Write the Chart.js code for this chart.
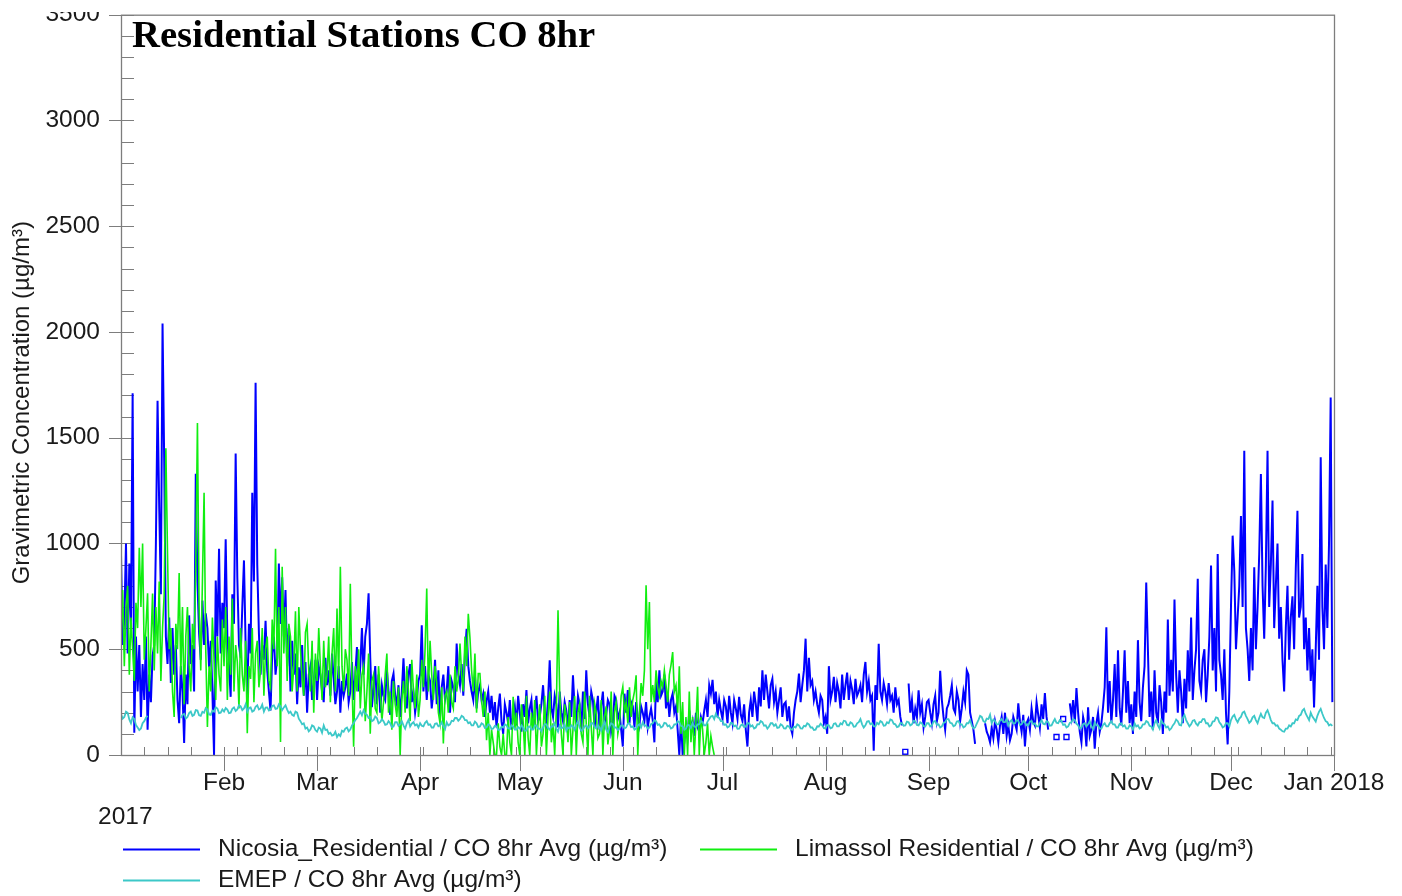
<!DOCTYPE html>
<html>
<head>
<meta charset="utf-8">
<title>Residential Stations CO 8hr</title>
<script src="https://cdn.jsdelivr.net/npm/chart.js@4/dist/chart.umd.min.js"></script>
<style>
  html, body { margin: 0; padding: 0; background: #fff; overflow: hidden; }
  #wrap { position: absolute; left: 0; top: 12px; width: 1402px; height: 884px; overflow: hidden; }
  #chart { position: absolute; left: 0; top: -33px; display: block; }
</style>
</head>
<body>
<div id="wrap"><canvas id="chart" width="1402" height="917"></canvas></div>
<script>
// ---- time axis (day of year 2017, day 0 = 1 Jan) ----
const monthStarts = [0, 31, 59, 90, 120, 151, 181, 212, 243, 273, 304, 334, 365];
const xTickDays   = [31, 59, 90, 120, 151, 181, 212, 243, 273, 304, 334, 365];
const xTickLabels = ['Feb', 'Mar', 'Apr', 'May', 'Jun', 'Jul', 'Aug', 'Sep', 'Oct', 'Nov', 'Dec', 'Jan 2018'];
const yearLabel = '2017';
const yTicks = [0, 500, 1000, 1500, 2000, 2500, 3000, 3500];

const chartTitle = 'Residential Stations CO 8hr';
const yTitle = 'Gravimetric Concentration (\u00b5g/m\u00b3)';
const seriesNames = [
  'Nicosia_Residential / CO 8hr Avg (\u00b5g/m\u00b3)',
  'Limassol Residential / CO 8hr Avg (\u00b5g/m\u00b3)',
  'EMEP / CO 8hr Avg (\u00b5g/m\u00b3)'
];

// ---- Nicosia residential, two readings per day (00h, 12h), one block per month ----
const nicosia = [
  [950,520, 640,1000, 480,905, 620,1710, 105,560, 300,520, 180,430, 260,560, 120,380, 250,470,
   520,1000, 1675,1170, 760,2040, 1390,560, 430,650, 340,600, 380,520, 260,150, 420,300, 57,380,
   240,660, 430,520, 300,1330, 820,575, 450,730, 520,670, 600,415, 540,300, 0,825, 560,975,
   480,720],
  [600,1020, 560,420, 275,760, 620,1425, 840,520, 460,700, 920,520, 275,620, 480,1240, 820,1760,
   900,575, 380,520, 450,635, 400,300, 210,480, 560,380, 460,905, 620,840, 560,780, 420,600,
   300,540, 380,480, 240,415, 320,520, 280,440, 200,380, 420,260, 340,450],
  [260,420, 380,300, 250,460, 330,400, 280,480, 360,240, 300,420, 200,350, 280,320, 385,250,
   300,440, 260,380, 510,300, 420,600, 380,560, 620,765, 460,226, 320,420, 240,380, 200,330,
   280,260, 405,300, 190,350, 385,280, 240,330, 180,300, 457,280, 220,380, 430,250, 300,200,
   260,350],
  [380,613, 300,420, 260,380, 350,220, 300,450, 240,400, 180,320, 380,260, 300,420, 200,350,
   320,250, 527,380, 330,430, 280,480, 597,420, 350,300, 260,380, 220,300, 330,260, 290,180,
   255,300, 200,280, 165,250, 130,220, 290,160, 100,240, 200,150, 260,120, 180,230, 140,280],
  [200,110, 240,180, 307,150, 220,260, 120,200, 280,160, 180,240, 330,200, 150,260, 448,220,
   180,280, 240,130, 300,200, 160,250, 210,120, 260,180, 377,220, 150,280, 240,110, 300,170,
   400,240, 180,300, 260,130, 200,280, 120,230, 300,150, 190,260, 240,110, 150,280, 260,170,
   200,120],
  [40,290, 200,307, 150,250, 230,130, 250,180, 140,230, 200,160, 250,130, 180,220, 165,60,
   355,250, 400,280, 300,380, 220,290, 180,260, 290,200, 230,120, 0,180, 0,60, 140,85,
   210,120, 160,90, 200,130, 110,180, 150,210, 260,180, 330,290, 355,240, 300,180, 260,210],
  [170,260, 230,150, 280,200, 150,260, 220,170, 275,190, 160,240, 120,40, 200,260, 180,300,
   240,160, 320,230, 400,260, 380,300, 220,330, 360,250, 300,200, 260,320, 180,240, 250,160,
   230,130, 100,200, 260,300, 385,250, 330,400, 550,300, 460,330, 350,260, 300,240, 200,280,
   260,150],
  [180,100, 420,260, 300,370, 250,340, 300,220, 380,260, 330,390, 260,350, 310,240, 360,280,
   300,330, 250,380, 440,300, 350,260, 280,20, 330,260, 526,300, 260,340, 300,240, 340,260,
   280,200, 320,240, 260,180, 140,null, 15,null, 338,200, 260,150, 220,180, 306,200, 240,130,
   180,250],
  [260,200, 150,240, 280,160, 200,398, 260,180, 120,220, 240,280, 330,220, 200,300, 260,160,
   220,300, 250,400, 380,200, 160,120, 53,null, null,null, null,null, 150,110, 90,60, 130,80,
   160,120, 60,140, 180,100, 200,90, 140,70, 100,180, 150,120, 244,160, 110,190, 40,150],
  [170,120, 220,160, 140,250, 190,130, 240,170, 293,180, 120,null, null,null, null,85, null,null,
   null,170, null,85, null,244, 180,260, 150,316, 200,110, 60,180, 140,40, 226,90, 120,180,
   30,150, 200,110, 150,226, 320,604, 200,350, 150,260, 430,180, 495,220, 140,300, 495,200,
   350,150],
  [240,100, 300,180, 543,250, 160,320, 420,816, 500,180, 300,120, 400,200, 150,330, 250,100,
   300,200, 640,280, 450,300, 735,380, 200,400, 300,150, 360,220, 495,300, 650,260, 400,500,
   833,350, 300,450, 500,250, 380,560, 896,400, 600,300, 950,450, 380,260, 500,200, 50,300],
  [700,1037, 870,500, 650,800, 1130,700, 1438,600, 500,350, 600,400, 888,500, 700,950, 1329,800,
   550,900, 1438,700, 900,1203, 600,800, 1000,550, 700,450, 300,600, 800,450, 650,750, 500,880,
   1155,650, 700,950, 500,650, 400,600, 350,500, 225,500, 800,450, 1408,700, 500,900, 600,1000,
   1690,250]
];

// ---- Limassol residential, two readings per day, January to late June ----
const limassol = [
  [560,780, 420,700, 800,380, 650,500, 350,720, 600,980, 700,1000, 450,600, 765,300, 520,763,
   400,700, 480,820, 350,600, 760,1450, 950,500, 600,300, 180,620, 500,860, 380,700, 240,560,
   700,420, 300,620, 500,900, 1570,700, 400,820, 1240,500, 133,420, 300,650, 450,260, 560,380,
   300,640],
  [420,700, 260,560, 380,740, 300,520, 440,220, 600,380, 300,540, 103,420, 360,600, 250,480,
   540,320, 400,600, 280,500, 560,350, 320,640, 500,975, 420,700, 62,890, 480,700, 350,620,
   560,300, 420,680, 300,700, 500,360, 280,580, 620,400, 300,540, 200,480],
  [350,600, 420,260, 540,320, 380,560, 250,480, 600,300, 692,360, 890,420, 300,500, 450,280,
   810,350, 39,420, 300,500, 220,380, 420,160, 300,480, 100,350, 380,220, 200,420, 300,160,
   250,380, 480,200, 300,120, 350,240, 180,320, 0,260, 350,200, 420,300, 160,450, 300,220,
   380,180],
  [260,450, 320,500, 787,300, 540,380, 260,420, 340,200, 150,320, 55,280, 300,200, 380,250,
   220,420, 300,360, 527,380, 300,560, 420,668, 555,400, 300,480, 200,385, 385,260, 180,300,
   70,200, 0,120, 60,0, 0,150, 40,0, 100,0, 0,180, 60,0, 275,120, 200,60],
  [0,240, 160,0, 280,80, 0,200, 120,260, 0,150, 240,40, 100,280, 0,180, 300,60,
   150,0, 220,684, 300,100, 0,240, 180,60, 250,0, 120,280, 0,200, 240,100, 60,300,
   150,0, 280,130, 0,245, 200,80, 100,260, 0,180, 230,50, 120,300, 0,200, 250,100,
   150,280],
  [323,200, 250,150, 320,180, 260,300, 377,0, 200,340, 280,400, 802,500, 723,250, 330,250,
   400,320, 280,350, 320,400, 330,250, 380,425, 487,300, 330,200, 420,100, 250,0, 180,0,
   300,60, 180,0, 150,323, 0,180, 120,0, 60,150, 0,90, 40,0]
];

// ---- EMEP background station, two readings per day ----
const emep = [
  [195,172, 180,205, 200,168, 150,178, 170,142, 130,118, 125,150, 160,176, 185,null,
   null,null, null,null, null,null, null,null, null,null, null,null, null,null, null,null, null,null,
   175,190, 195,172, 180,198, 205,185, 190,212, 210,188, 185,204, 200,222, 215,192, 190,210,
   205,226, 220,198, 200,215],
  [205,222, 215,198, 200,218, 225,208, 215,236, 230,212, 220,240, 205,222, 225,205, 210,228,
   235,215, 220,238, 205,224, 225,210, 215,232, 235,218, 220,240, 230,212, 225,235, 215,198,
   205,190, 185,205, 200,172, 160,145, 150,125, 130,112, 120,140, 135,118],
  [110,130, 125,105, 140,118, 120,100, 105,92, 95,110, 85,98, 90,115, 110,125, 130,112,
   120,140, 150,165, 175,190, 205,188, 212,195, 190,175, 180,160, 165,182, 175,150, 155,170,
   160,142, 145,160, 150,132, 135,155, 155,138, 145,160, 140,125, 150,165, 135,148, 155,140,
   145,130],
  [150,138, 135,152, 160,142, 145,130, 130,148, 150,136, 140,155, 135,122, 155,140, 145,162,
   160,175, 175,162, 170,185, 180,165, 165,150, 155,140, 140,158, 150,132, 135,150, 145,128,
   130,145, 140,122, 125,138, 135,118, 120,134, 130,145, 140,126, 125,140, 135,120, 120,132],
  [125,140, 130,115, 115,132, 135,120, 120,138, 140,125, 125,112, 130,146, 145,128, 120,136,
   135,150, 125,110, 140,126, 130,145, 115,130, 125,140, 135,120, 145,158, 130,115, 120,135,
   140,126, 135,150, 150,132, 125,140, 130,115, 140,155, 120,108, 135,150, 145,130, 130,118,
   125,140],
  [140,125, 130,148, 150,132, 135,120, 125,140, 145,130, 155,138, 140,125, 130,146, 150,165,
   160,142, 145,130, 135,152, 150,136, 140,125, 130,145, 145,160, 155,138, 135,120, 125,142,
   140,128, 150,135, 130,145, 145,160, 155,140, 140,158, 170,182, 185,170, 195,178, 175,160],
  [160,142, 145,130, 135,152, 150,136, 140,124, 125,140, 145,132, 135,150, 150,135, 140,125,
   130,146, 145,160, 155,138, 140,125, 135,150, 150,138, 145,128, 130,145, 140,126, 125,138,
   135,122, 120,134, 130,145, 140,126, 125,138, 135,150, 145,130, 130,118, 120,136, 135,148,
   140,128],
  [125,142, 140,126, 130,148, 150,135, 135,150, 145,162, 160,142, 140,155, 150,134, 135,150,
   155,170, 145,130, 140,158, 160,145, 150,135, 135,152, 145,160, 155,138, 140,155, 150,168,
   165,148, 145,132, 135,150, 150,138, 140,158, 155,140, 145,162, 160,142, 140,155, 150,136,
   135,150],
  [150,135, 140,158, 160,142, 145,130, 135,152, 155,170, 170,152, 150,136, 140,158, 160,145,
   145,130, 135,150, 150,165, 140,125, 130,148, 165,185, 180,160, 155,172, 170,190, 150,168,
   160,145, 145,162, 170,155, 155,172, 140,158, 165,148, 150,166, 160,142, 145,160, 155,140],
  [140,158, 160,145, 150,135, 135,152, 165,148, 145,160, 155,138, 140,156, 170,152, 150,165,
   160,142, 145,130, 135,152, 155,170, 165,148, 140,125, 130,146, 150,135, 145,160, 135,122,
   155,140, 140,125, 125,142, 150,135, 135,150, 160,145, 145,130, 130,148, 150,135, 140,125,
   125,140],
  [135,120, 150,135, 140,125, 130,145, 145,160, 155,138, 135,120, 150,165, 140,125, 165,150,
   145,130, 135,118, 125,140, 150,168, 160,142, 140,175, 190,165, 150,135, 145,162, 165,148,
   140,155, 155,170, 170,150, 150,135, 140,158, 160,178, 175,155, 145,130, 135,150, 150,135],
  [165,182, 190,168, 155,172, 180,200, 205,185, 170,152, 160,178, 185,165, 150,175, 195,178,
   175,200, 212,190, 165,150, 150,138, 140,125, 120,112, 110,125, 125,140, 135,150, 150,168,
   165,185, 190,210, 218,195, 180,165, 200,182, 170,158, 185,205, 218,195, 175,160, 155,140,
   145,138]
];

// month blocks -> {x: day of year, y}
function toPoints(blocks, perDay) {
  const pts = [];
  blocks.forEach((vals, m) => {
    vals.forEach((v, j) => pts.push({ x: monthStarts[m] + j / perDay, y: v }));
  });
  return pts;
}

// a reading with no neighbours is shown as a small open square
function loneRadius(ctx) {
  const d = ctx.dataset.data, i = ctx.dataIndex;
  if (!d[i] || d[i].y == null) return 0;
  const p = d[i - 1], n = d[i + 1];
  return ((!p || p.y == null) && (!n || n.y == null)) ? 3.5 : 0;
}

const FONT = "'Liberation Sans', Arial, sans-serif";
const FONT_SIZE = 24.5;
const TEXT = '#1a1a1a';
const AXIS = '#7d7d7d';

function lineSet(label, color, data, width, order) {
  return {
    label, data, order,
    borderColor: color,
    backgroundColor: color,
    borderWidth: width,
    tension: 0,
    spanGaps: false,
    pointRadius: loneRadius,
    pointHoverRadius: 0,
    pointStyle: 'rect',
    pointBorderColor: color,
    pointBackgroundColor: 'rgba(0,0,0,0)',
    pointBorderWidth: 1.4
  };
}

// frame, tick marks, title, y title, year label and legend
const decor = {
  id: 'decor',
  beforeDatasetsDraw(chart) {
    const { ctx, chartArea: a, scales: { x, y } } = chart;
    ctx.save();
    ctx.strokeStyle = AXIS;
    ctx.lineWidth = 1;
    ctx.beginPath();
    for (let v = 0; v <= 3500; v += 100) {
      const py = Math.round(y.getPixelForValue(v)) + 0.5;
      ctx.moveTo(v % 500 === 0 ? a.left - 12 : a.left, py);
      ctx.lineTo(a.left + 13, py);
    }
    for (let d = 0; d <= 365; d += 7) {
      const px = Math.round(x.getPixelForValue(d)) + 0.5;
      ctx.moveTo(px, a.bottom - 8);
      ctx.lineTo(px, a.bottom);
    }
    xTickDays.forEach(d => {
      const px = Math.round(x.getPixelForValue(d)) + 0.5;
      ctx.moveTo(px, a.bottom - 8);
      ctx.lineTo(px, a.bottom + 16);
    });
    ctx.stroke();
    ctx.restore();
  },
  afterDraw(chart) {
    const { ctx, chartArea: a } = chart;
    ctx.save();
    // plot frame
    ctx.strokeStyle = AXIS;
    ctx.lineWidth = 1.3;
    ctx.strokeRect(a.left + 0.5, a.top + 0.5, a.right - a.left, a.bottom - a.top);

    // chart title inside the plot
    ctx.fillStyle = '#000';
    ctx.font = "bold 38.7px 'Liberation Serif', 'Times New Roman', serif";
    ctx.textAlign = 'left';
    ctx.textBaseline = 'alphabetic';
    ctx.fillText(chartTitle, a.left + 11, a.top + 32);

    // y axis title
    ctx.fillStyle = TEXT;
    ctx.font = '24px ' + FONT;
    ctx.save();
    ctx.translate(22, a.top + 388);
    ctx.rotate(-Math.PI / 2);
    ctx.textAlign = 'center';
    ctx.textBaseline = 'middle';
    ctx.fillText(yTitle, 0, 0);
    ctx.restore();

    // year under the axis
    ctx.font = FONT_SIZE + 'px ' + FONT;
    ctx.textAlign = 'left';
    ctx.textBaseline = 'middle';
    ctx.fillText(yearLabel, a.left - 23, a.bottom + 62);

    // legend: two columns
    const slots = [
      { x: a.left + 2, y: a.bottom + 94 },
      { x: a.left + 579, y: a.bottom + 94 },
      { x: a.left + 2, y: a.bottom + 125 }
    ];
    chart.data.datasets.forEach((ds, i) => {
      const s = slots[i];
      ctx.strokeStyle = ds.borderColor;
      ctx.lineWidth = 2;
      ctx.beginPath();
      ctx.moveTo(s.x, s.y + 0.5);
      ctx.lineTo(s.x + 77, s.y + 0.5);
      ctx.stroke();
      ctx.fillStyle = TEXT;
      ctx.fillText(ds.label, s.x + 95, s.y);
    });
    ctx.restore();
  }
};

new Chart(document.getElementById('chart'), {
  type: 'line',
  data: {
    datasets: [
      lineSet(seriesNames[0], '#0000ff', toPoints(nicosia, 2), 2.0, 2),
      lineSet(seriesNames[1], '#10ee10', toPoints(limassol, 2), 1.6, 1),
      lineSet(seriesNames[2], '#3cc8c8', toPoints(emep, 2), 1.8, 0)
    ]
  },
  options: {
    responsive: false,
    animation: false,
    devicePixelRatio: 1,
    events: [],
    layout: { padding: { left: 0, right: 68, top: 14, bottom: 101 } },
    plugins: { legend: { display: false }, title: { display: false }, tooltip: { enabled: false } },
    scales: {
      x: {
        type: 'linear',
        min: 0,
        max: 365,
        afterBuildTicks: ax => { ax.ticks = xTickDays.map(v => ({ value: v })); },
        afterFit: s => { s.height = 40; },
        grid: { display: false, drawTicks: false },
        border: { display: false },
        ticks: {
          autoSkip: false,
          maxRotation: 0,
          padding: 14,
          color: TEXT,
          font: { family: FONT, size: FONT_SIZE },
          callback: (v, i) => xTickLabels[i]
        }
      },
      y: {
        type: 'linear',
        min: 0,
        max: 3500,
        afterBuildTicks: ax => { ax.ticks = yTicks.map(v => ({ value: v })); },
        afterFit: s => { s.width = 121; },
        grid: { display: false, drawTicks: false },
        border: { display: false },
        ticks: {
          padding: 21,
          color: TEXT,
          font: { family: FONT, size: FONT_SIZE },
          callback: v => String(v)
        }
      }
    }
  },
  plugins: [decor]
});
</script>
</body>
</html>
